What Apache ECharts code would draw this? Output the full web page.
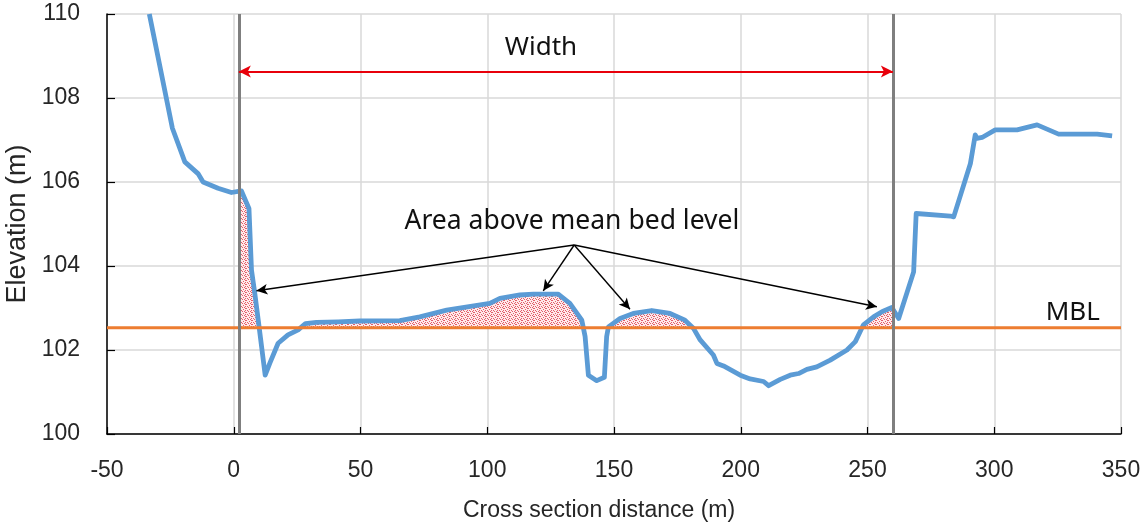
<!DOCTYPE html>
<html>
<head>
<meta charset="utf-8">
<script src="https://cdn.jsdelivr.net/npm/echarts@6/dist/echarts.min.js"></script>
<style>html,body{margin:0;padding:0;background:#fff}#c{width:1145px;height:526px}</style>
</head>
<body>
<div id="c"></div>
<script>
// ---- data ----
var distance = [-33.3,-24.2,-19.3,-14.1,-12.1,-6.2,-0.9,3.0,6.0,7.0,8.3,10.0,12.4,14.2,17.5,21.4,25.4,28.3,32.6,41.2,49.7,65.5,73.4,84,101,105,112.9,118.2,128,132.6,137.3,138.6,139.9,143.2,146.2,147.1,147.8,152.4,157.6,164.9,172.1,178,181.3,184,189.2,190.6,193.2,199.8,203.7,209,211,215.6,219.5,222.8,226.1,230,235.3,241.9,245.2,248.4,252.4,255.7,259.6,262.3,268.2,269.2,282.7,284,290.6,292.5,293.2,295.2,300.4,309,316.9,325.4,340.6,346.5];
var elevation = [110.0,107.28,106.48,106.2,106.0,105.85,105.75,105.79,105.37,103.9,103.35,102.55,101.4,101.68,102.16,102.36,102.48,102.63,102.66,102.67,102.69,102.7,102.79,102.95,103.11,103.23,103.31,103.33,103.33,103.11,102.71,102.32,101.4,101.27,101.35,102.32,102.55,102.75,102.87,102.94,102.87,102.71,102.52,102.24,101.88,101.68,101.62,101.4,101.31,101.25,101.15,101.3,101.4,101.44,101.54,101.6,101.76,102.0,102.2,102.6,102.79,102.91,103.01,102.75,103.86,105.25,105.19,105.17,106.44,107.12,107.04,107.06,107.24,107.24,107.36,107.14,107.14,107.1];
var MBL = 102.53;
var widthLeft = 2, widthRight = 260;
var widthArrowY = 108.63;
var xTicks = {min: -50, max: 350, interval: 50};
var yTicks = {min: 100, max: 110, interval: 2};
var annotApex = [134.3, 104.5];
var annotTips = [[8.96,103.41],[122.1,103.41],[156.3,102.97],[253.7,103.03]];
var labels = {width: 'Width', area: 'Area above mean bed level', mbl: 'MBL',
  xName: 'Cross section distance (m)', yName: 'Elevation (m)'};
var labelPos = {width: [121.2, 109.19], area: [133.4, 105.07], mbl: [331, 102.9]};

// ---- derived series ----
var profile = distance.map(function(x,i){return [x, elevation[i]];});
function interp(x){
  for (var i=0;i<distance.length-1;i++){
    if (x>=distance[i] && x<=distance[i+1]){
      var t=(x-distance[i])/(distance[i+1]-distance[i]);
      return elevation[i]+t*(elevation[i+1]-elevation[i]);
    }
  }
  return null;
}
var fill = [];
var pts = [[widthLeft, interp(widthLeft)]];
for (var i=0;i<distance.length;i++){ if (distance[i]>widthLeft && distance[i]<widthRight) pts.push([distance[i], elevation[i]]); }
pts.push([widthRight, interp(widthRight)]);
for (var j=0;j<pts.length;j++){
  if (j>0){
    var a=pts[j-1], b=pts[j];
    if ((a[1]-MBL)*(b[1]-MBL)<0){
      var t=(MBL-a[1])/(b[1]-a[1]);
      fill.push([a[0]+t*(b[0]-a[0]), MBL]);
    }
  }
  fill.push([pts[j][0], Math.max(pts[j][1], MBL)]);
}

// stipple pattern
var pc = document.createElement('canvas'); pc.width = 6; pc.height = 4;
var pctx = pc.getContext('2d');
pctx.fillStyle = 'rgba(255,232,232,1)'; pctx.fillRect(0,0,6,4);
pctx.fillStyle = 'rgba(220,60,75,0.9)';
[[0,0],[3,1],[1,2],[4,3],[5,0],[2,3],[5,2]].forEach(function(p){pctx.fillRect(p[0],p[1],1,1);});

var chart = echarts.init(document.getElementById('c'));
var font = '"Liberation Sans", Arial, sans-serif';
var arrowData = annotTips.map(function(tp){
  return [{coord: annotApex, symbol: 'none'}, {coord: tp, symbol: 'arrow'}];
});
arrowData.push([{coord:[widthLeft,widthArrowY], symbol:'arrow', symbolSize:[9,12], lineStyle:{color:'#e8000b', width:2.2}},
                {coord:[widthRight,widthArrowY], symbol:'arrow', symbolSize:[9,12], lineStyle:{color:'#e8000b', width:2.2}}]);

chart.setOption({
  animation: false,
  grid: {left: 107, right: 24, top: 14, bottom: 92, containLabel: false, outerBoundsMode: 'none'},
  xAxis: {type: 'value', min: xTicks.min, max: xTicks.max, interval: xTicks.interval,
    name: labels.xName, nameLocation: 'middle', nameGap: 65,
    nameTextStyle: {fontFamily: font, fontSize: 23, color: '#262626', padding: [0, 30, 0, 0]},
    axisLine: {show: true, onZero: false, lineStyle: {color: '#000', width: 1.5}},
    axisTick: {show: true, inside: true, length: 7, lineStyle: {color: '#000', width: 1.2}},
    axisLabel: {fontFamily: font, fontSize: 23, color: '#262626', margin: 25},
    splitLine: {show: true, lineStyle: {color: '#d9d9d9', width: 1.5}}},
  yAxis: {type: 'value', min: yTicks.min, max: yTicks.max, interval: yTicks.interval,
    name: labels.yName, nameLocation: 'middle', nameGap: 75, nameRotate: 90,
    nameTextStyle: {fontFamily: font, fontSize: 27, color: '#262626'},
    axisLine: {show: true, onZero: false, lineStyle: {color: '#000', width: 1.5}},
    axisTick: {show: true, inside: true, length: 8, lineStyle: {color: '#000', width: 1.2}},
    axisLabel: {fontFamily: font, fontSize: 23, color: '#262626', margin: 27},
    splitLine: {show: true, lineStyle: {color: '#d9d9d9', width: 1.5}}},
  series: [
    {type: 'line', data: fill, symbol: 'none', z: 2, silent: true,
      lineStyle: {width: 0, opacity: 0},
      areaStyle: {origin: MBL, color: {image: pc, repeat: 'repeat'}, opacity: 0.9},
      markLine: {silent: true, symbol: 'none', animation: false, label: {show: false},
        lineStyle: {color: '#7f7f7f', width: 3, type: 'solid'},
        data: [{xAxis: widthLeft}, {xAxis: widthRight}]}},
    {type: 'line', data: profile, symbol: 'none', z: 3, silent: true,
      lineStyle: {color: '#5b9bd5', width: 4.8, join: 'round'}},
    {type: 'line', data: [[xTicks.min, MBL],[xTicks.max, MBL]], symbol: 'none', z: 4, silent: true,
      lineStyle: {color: '#ed7d31', width: 3},
      markLine: {silent: true, animation: false, symbol: 'none', symbolSize: [8,11], label: {show: false},
        lineStyle: {color: '#000', width: 1.4, type: 'solid'},
        data: arrowData}}
  ]
});

function place(){
  var g = [];
  function txt(key, size){
    var p = chart.convertToPixel({gridIndex:0}, labelPos[key]);
    g.push({type:'text', x:p[0], y:p[1], z: 10, style:{text: labels[key], fontFamily: '"Noto Sans", "Open Sans", sans-serif',
      fontSize: size, fill:'#111', align:'center', verticalAlign:'middle'}});
  }
  txt('width', 26); txt('area', 26.5); txt('mbl', 26);
  chart.setOption({graphic: g});
}
place();
</script>
</body>
</html>
